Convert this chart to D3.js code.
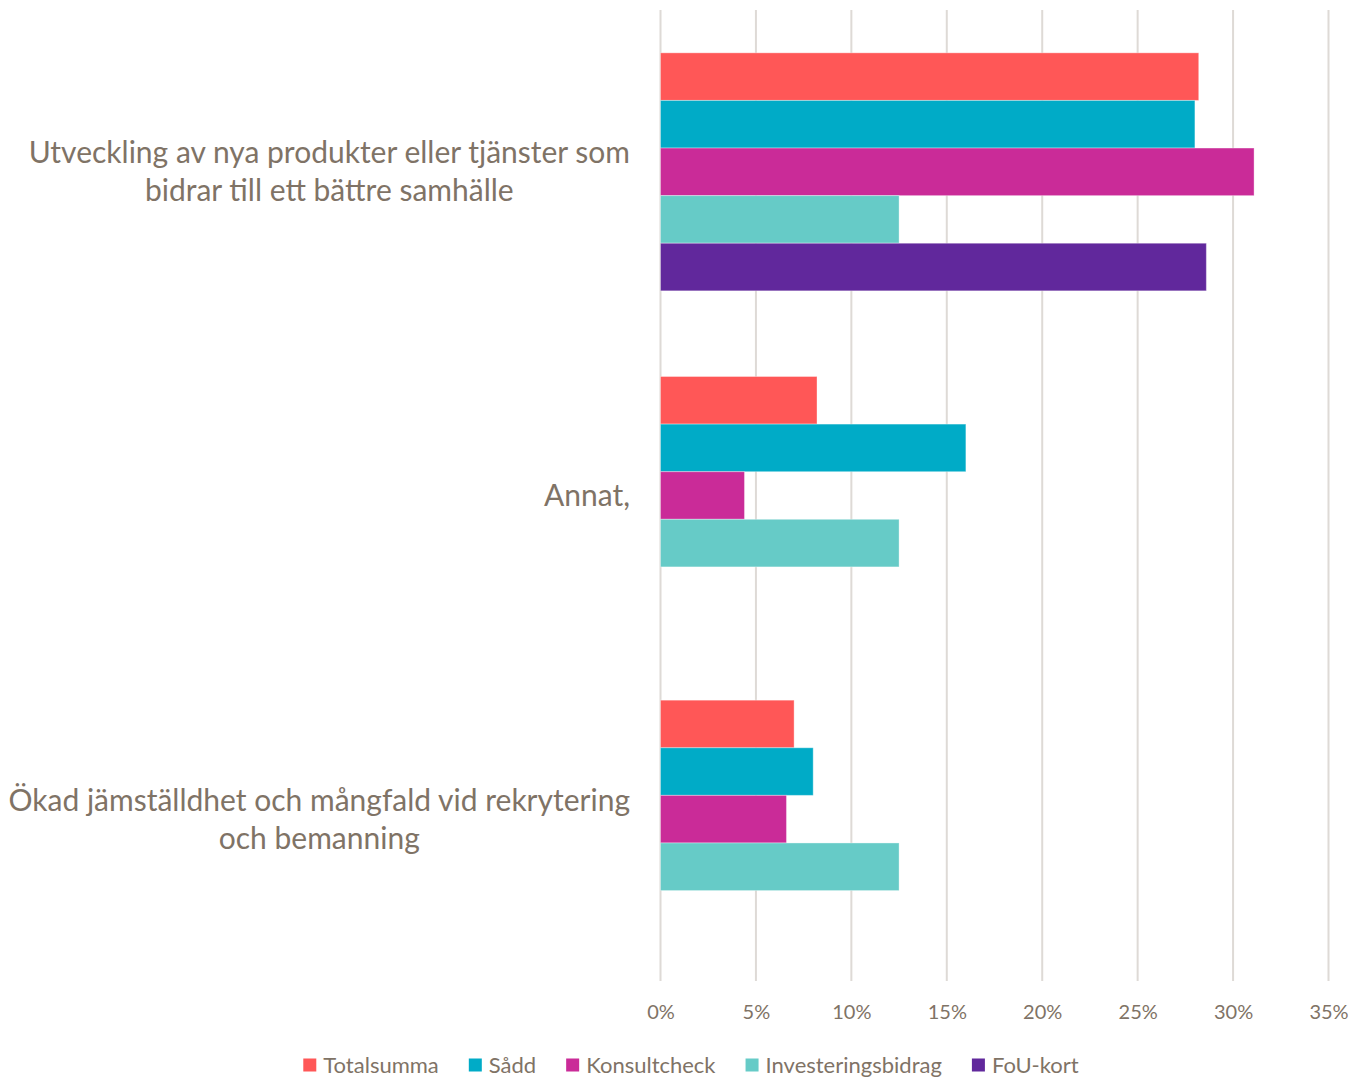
<!DOCTYPE html>
<html><head><meta charset="utf-8">
<script src="https://cdn.jsdelivr.net/npm/d3@7"></script>
<style>body{margin:0;background:#fff}svg{display:block}</style>
</head><body>
<script>
const categories = [
  ["Utveckling av nya produkter eller tjänster som", "bidrar till ett bättre samhälle"],
  ["Annat,"],
  ["Ökad jämställdhet och mångfald vid rekrytering", "och bemanning"]
];
const seriesNames = ["Totalsumma", "Sådd", "Konsultcheck", "Investeringsbidrag", "FoU-kort"];
const seriesColors = ["#ff5757", "#00abc7", "#ca2b98", "#66cbc7", "#61289c"];
const totalsumma = [28.2, 8.2, 7.0];
const sadd = [28.0, 16.0, 8.0];
const konsultcheck = [31.1, 4.4, 6.6];
const investeringsbidrag = [12.5, 12.5, 12.5];
const fouKort = [28.6, null, null];
const tickValues = [0, 5, 10, 15, 20, 25, 30, 35];

const seriesValues = [totalsumma, sadd, konsultcheck, investeringsbidrag, fouKort];
const W = 1353, H = 1078;
const textColor = "#7f7366";
const font = "Lato, 'Open Sans', sans-serif";

const svg = d3.select("body").append("svg").attr("width", W).attr("height", H);
const x = d3.scaleLinear().domain([0, 35]).range([660.5, 1328.5]);
const y = d3.scaleBand().domain(d3.range(categories.length)).range([10, 981]).padding(0);
const ySub = d3.scaleBand().domain(d3.range(seriesNames.length)).range([0, y.bandwidth()]).paddingInner(0).paddingOuter(0.9);

// grid
svg.append("g").selectAll("line").data(tickValues).join("line")
  .attr("x1", d => x(d)).attr("x2", d => x(d))
  .attr("y1", 10).attr("y2", 981)
  .attr("stroke", "#dedad6").attr("stroke-width", 2);

// bars
const groups = svg.append("g").selectAll("g").data(categories).join("g")
  .attr("transform", (d, i) => `translate(0,${y(i)})`);
groups.each(function(c, ci) {
  const g = d3.select(this);
  seriesNames.forEach((s, si) => {
    const v = seriesValues[si][ci];
    if (v == null) return;
    g.append("rect")
      .attr("x", x(0)).attr("y", ySub(si))
      .attr("width", x(v) - x(0)).attr("height", ySub.bandwidth())
      .attr("fill", seriesColors[si])
      .attr("stroke", "#ffffff").attr("stroke-opacity", 0.35).attr("stroke-width", 1);
  });
});

// x axis labels
const xAxis = d3.axisBottom(x).tickValues(tickValues).tickFormat(d => d + "%").tickSize(0).tickPadding(0);
const ax = svg.append("g").attr("transform", "translate(0,1005)").call(xAxis);
ax.select(".domain").remove();
ax.selectAll("text").attr("fill", textColor).attr("font-family", font).attr("font-size", 20).attr("dy", "0.71em");

// category labels
const lineH = 38;
categories.forEach((lines, ci) => {
  const cy = y(ci) + y.bandwidth() / 2;
  const g = svg.append("g").attr("font-family", font).attr("font-size", 30).attr("fill", textColor);
  const texts = lines.map((l, li) => g.append("text")
    .attr("y", cy + (li - (lines.length - 1) / 2) * lineH)
    .attr("dy", "0.35em").attr("text-anchor", "middle").text(l));
  const maxW = d3.max(texts, t => t.node().getComputedTextLength());
  texts.forEach(t => t.attr("x", 630 - maxW / 2));
});

// legend
const lg = svg.append("g").attr("font-family", font).attr("font-size", 22).attr("fill", textColor);
let cx = 0;
seriesNames.forEach((s, i) => {
  const it = lg.append("g");
  it.append("rect").attr("x", 0).attr("y", -6.5).attr("width", 13).attr("height", 13).attr("fill", seriesColors[i]);
  const t = it.append("text").attr("x", 20).attr("y", 0).attr("dy", "0.35em").text(s);
  const w = 20 + t.node().getComputedTextLength();
  it.attr("transform", `translate(${cx},1065)`);
  cx += w + 30;
});
const totalW = cx - 30;
lg.attr("transform", `translate(${691 - totalW / 2},0)`);
</script>
</body></html>
